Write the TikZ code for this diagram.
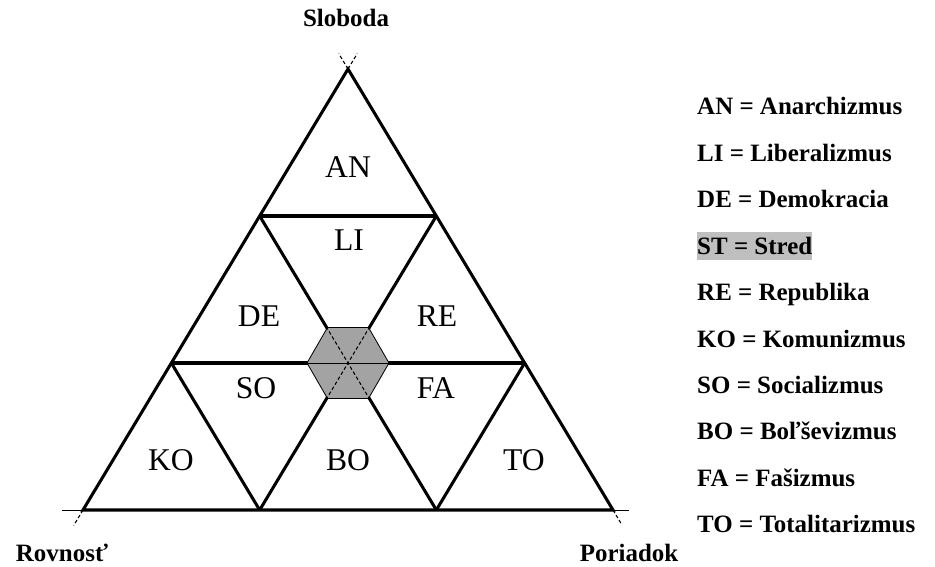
\documentclass[tikz,border=0pt]{standalone}
\usepackage{fontspec}
\setmainfont{Liberation Serif}
\usetikzlibrary{calc, shapes.geometric}

\begin{document}
\begin{tikzpicture}[
  x=0.03cm, y=-0.03cm,
  thickline/.style={line width=2.6pt},
  thinline/.style={line width=0.8pt},
  extline/.style={line width=0.9pt, densely dashed},
  fieldlabel/.style={font=\fontsize{27}{30}\selectfont, inner sep=0pt},
  axislabel/.style={font=\fontsize{21.3}{25}\selectfont\bfseries, anchor=base, inner sep=0pt},
  legend/.style={font=\fontsize{21.3}{25}\selectfont\bfseries, anchor=base west, inner sep=0pt},
  hexst/.style={
     regular polygon,
     regular polygon sides=6,
     minimum size=2.46cm,
     inner sep=0pt, outer sep=0pt,
     fill=gray!72,
     draw=black,
     line width=0.7pt}
  ]
  \useasboundingbox (0,0) rectangle (935,566);

  % corners and grid points
  \coordinate (A) at (348,69);
  \coordinate (L) at (83,510);
  \coordinate (R) at (613,510);
  \coordinate (l1) at ($(A)!1/3!(L)$);
  \coordinate (l2) at ($(A)!2/3!(L)$);
  \coordinate (r1) at ($(A)!1/3!(R)$);
  \coordinate (r2) at ($(A)!2/3!(R)$);
  \coordinate (b1) at ($(L)!1/3!(R)$);
  \coordinate (b2) at ($(L)!2/3!(R)$);
  \coordinate (c) at ($(l2)!0.5!(r2)$);

  % ends of the axes
  \coordinate (Aleft) at ($(L)!1.035!(A)$);
  \coordinate (Aright) at ($(R)!1.035!(A)$);
  \coordinate (Lside) at ($(A)!1.035!(L)$);
  \coordinate (Lbase) at ($(R)!1.04!(L)$);
  \coordinate (Rside) at ($(A)!1.03!(R)$);
  \coordinate (Rbase) at ($(L)!1.03!(R)$);

  % triangle and grid
  \draw[thickline] (A) -- (L) -- (R) -- cycle;
  \draw[thickline] (l1) -- (r1);
  \draw[thickline] (l2) -- (r2);
  \draw[thickline] (l1) -- (b2);
  \draw[thickline] (r1) -- (b1);
  \draw[thickline] (l2) -- (b1);
  \draw[thickline] (r2) -- (b2);

  \draw[extline] (A) -- (Aleft);
  \draw[extline] (A) -- (Aright);
  \draw[extline] (L) -- (Lside);
  \draw[thinline] (L) -- (Lbase);
  \draw[extline] (R) -- (Rside);
  \draw[thinline] (R) -- (Rbase);

  % centre
  \node[hexst] (st) at (c) {};
  \begin{scope}
    \clip (st.corner 1) -- (st.corner 2) -- (st.corner 3) -- (st.corner 4)
      -- (st.corner 5) -- (st.corner 6) -- cycle;
    \draw[extline] (l1) -- (b2);
    \draw[extline] (r1) -- (b1);
    \draw[thinline] (l2) -- (r2);
  \end{scope}

  % fields
  \node[fieldlabel] (an) at (348,167) {AN};
  \node[fieldlabel] (li) at (349,240) {LI};
  \node[fieldlabel] (de) at (259,316) {DE};
  \node[fieldlabel] (re) at (437,316) {RE};
  \node[fieldlabel] (so) at (256,388) {SO};
  \node[fieldlabel] (fa) at (436,388) {FA};
  \node[fieldlabel] (ko) at (171,460) {KO};
  \node[fieldlabel] (bo) at (348,460) {BO};
  \node[fieldlabel] (to) at (524,460) {TO};

  % axes
  \node[axislabel] (sloboda) at (346,27) {Sloboda};
  \node[axislabel] (rovnost) at (62,561) {Rovnosť};
  \node[axislabel] (poriadok) at (629,561) {Poriadok};

  % legend
  \node[legend] (lgan) at (697,115) {AN = Anarchizmus};
  \node[legend] (lgli) at (697,161.4) {LI = Liberalizmus};
  \node[legend] (lgde) at (697,207.8) {DE = Demokracia};
  \node[legend, fill=gray!50, text height=0.66cm, text depth=0.18cm] (lgst) at (697,254.2) {ST = Stred};
  \node[legend] (lgre) at (697,300.6) {RE = Republika};
  \node[legend] (lgko) at (697,347) {KO = Komunizmus};
  \node[legend] (lgso) at (697,393.4) {SO = Socializmus};
  \node[legend] (lgbo) at (697,439.8) {BO = Boľševizmus};
  \node[legend] (lgfa) at (697,486.2) {FA = Fašizmus};
  \node[legend] (lgto) at (697,532.6) {TO = Totalitarizmus};
\end{tikzpicture}
\end{document}
